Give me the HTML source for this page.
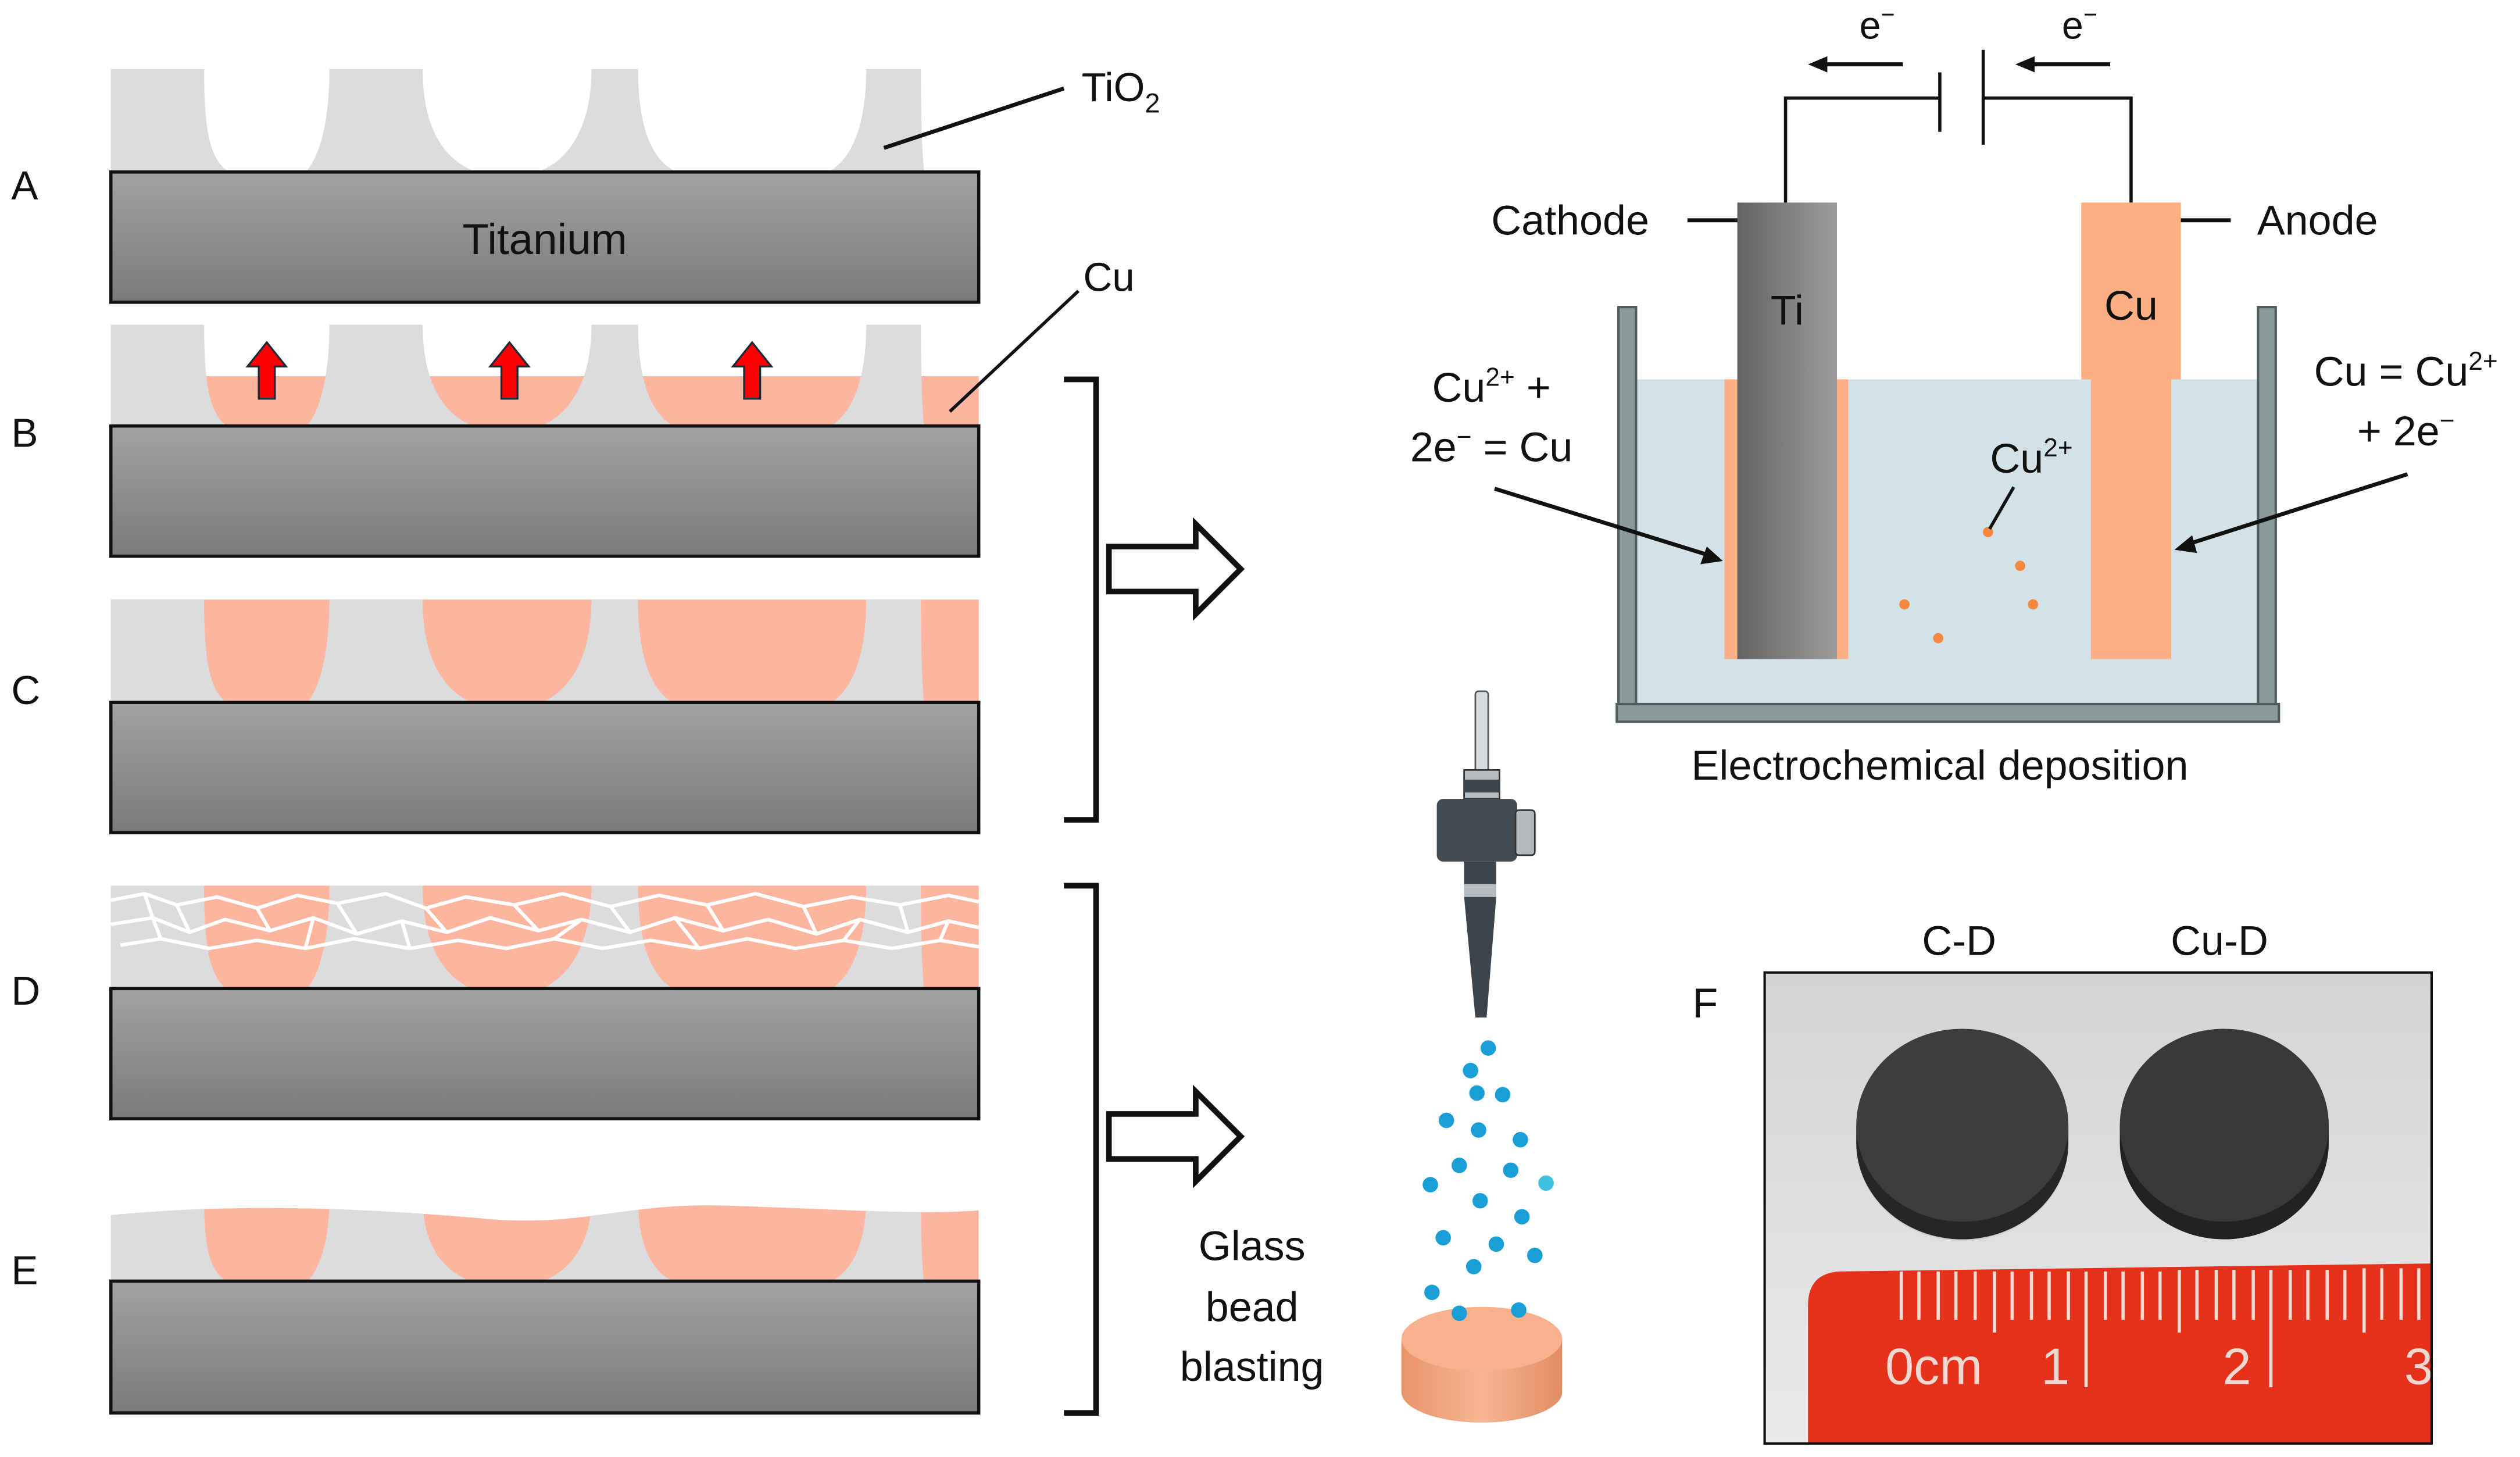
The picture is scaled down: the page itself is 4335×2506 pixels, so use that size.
<!DOCTYPE html>
<html><head><meta charset="utf-8"><style>
html,body{margin:0;padding:0;background:#fff;}
svg{display:block;}
text{font-family:"Liberation Sans",sans-serif;fill:#111;}
</style></head><body>
<svg width="4335" height="2506" viewBox="0 0 1568 906.4" xmlns="http://www.w3.org/2000/svg">
<defs>
<linearGradient id="slab" x1="0" y1="0" x2="0" y2="1"><stop offset="0" stop-color="#a2a2a2"/><stop offset="1" stop-color="#7a7a7a"/></linearGradient>
<linearGradient id="tig" x1="0" y1="0" x2="1" y2="0"><stop offset="0" stop-color="#636363"/><stop offset="1" stop-color="#9c9c9e"/></linearGradient>
<linearGradient id="photo" x1="0" y1="0" x2="0" y2="1"><stop offset="0" stop-color="#d4d4d4"/><stop offset="1" stop-color="#ebe9e9"/></linearGradient>
<linearGradient id="side" x1="0" y1="0" x2="1" y2="0"><stop offset="0" stop-color="#e8946a"/><stop offset="0.5" stop-color="#f6b592"/><stop offset="1" stop-color="#e28c62"/></linearGradient>
<g id="pil" fill="#dcdcdc">
<path d="M69,0 L127,0 C127,40 131,55 141,63 L69,63 Z"/>
<path d="M205,0 L263,0 C263,35 275,55 294,63 L191,63 C198,55 205,35 205,0 Z"/>
<path d="M368,0 L397,0 C397,35 405,55 419,63 L337,63 C355,55 368,35 368,0 Z"/>
<path d="M539,0 L573,0 C573,35 574,55 575,63 L517,63 C530,55 539,35 539,0 Z"/>
</g>
<clipPath id="ewave"><path d="M69,756 C150,748 230,752 300,758 C360,764 390,748 450,750 C520,752 570,756 609,753 L609,800 L69,800 Z"/></clipPath>
</defs>

<!-- A -->
<use href="#pil" transform="translate(0,43)"/>
<rect x="69" y="107" width="540" height="81" fill="url(#slab)" stroke="#111" stroke-width="2"/>
<text x="339" y="158" font-size="27" text-anchor="middle">Titanium</text>
<text x="7" y="124" font-size="25">A</text>
<line x1="550" y1="92" x2="662" y2="55" stroke="#111" stroke-width="2.5"/>
<text x="673" y="63" font-size="25">TiO<tspan font-size="17" dy="7">2</tspan></text>

<!-- B -->
<rect x="127" y="234" width="482" height="31" fill="#fdb5a0"/>
<use href="#pil" transform="translate(0,202)"/>
<rect x="69" y="265" width="540" height="81" fill="url(#slab)" stroke="#111" stroke-width="2"/>
<text x="7" y="278" font-size="25">B</text>
<g fill="#ff0000" stroke="#1a2a3a" stroke-width="1.2">
<path d="M166,213 L178,228 L171,228 L171,248 L161,248 L161,228 L154,228 Z"/>
<path d="M317,213 L329,228 L322,228 L322,248 L312,248 L312,228 L305,228 Z"/>
<path d="M468,213 L480,228 L473,228 L473,248 L463,248 L463,228 L456,228 Z"/>
</g>
<line x1="591" y1="256" x2="671" y2="181" stroke="#111" stroke-width="2"/>
<text x="674" y="181" font-size="25">Cu</text>

<!-- C -->
<rect x="69" y="373" width="540" height="64" fill="#fdb5a0"/>
<use href="#pil" transform="translate(0,373) scale(1,1.02)"/>
<rect x="69" y="437" width="540" height="81" fill="url(#slab)" stroke="#111" stroke-width="2"/>
<text x="7" y="438" font-size="25">C</text>

<!-- D -->
<rect x="69" y="551" width="540" height="64" fill="#fdb5a0"/>
<use href="#pil" transform="translate(0,551) scale(1,1.02)"/>
<g stroke="#fff" stroke-width="2.2" fill="none" stroke-linejoin="round">
<path d="M69,560 L90,556 L110,563 L135,558 L160,565 L185,557 L210,562 L240,556 L265,565 L290,558 L320,563 L350,556 L380,564 L410,557 L440,563 L470,556 L500,564 L530,558 L560,563 L590,557 L609,561"/>
<path d="M69,575 L95,571 L118,580 L140,572 L168,579 L195,571 L222,581 L250,573 L278,580 L305,571 L335,579 L362,572 L392,580 L420,571 L450,579 L478,572 L508,581 L535,572 L565,580 L590,573 L609,577"/>
<path d="M75,588 L100,584 L130,590 L160,585 L190,590 L220,584 L255,590 L285,585 L315,590 L345,584 L375,590 L405,585 L435,590 L465,584 L495,590 L525,585 L555,590 L585,585 L609,589"/>
<path d="M90,556 L95,571 M110,563 L118,580 M160,565 L168,579 M210,562 L222,581 M265,565 L278,580 M320,563 L335,579 M380,564 L392,580 M440,563 L450,579 M500,564 L508,581 M560,563 L565,580 M100,584 L95,571 M190,590 L195,571 M255,590 L250,573 M345,584 L362,572 M435,590 L420,571 M525,585 L535,572 M585,585 L590,573"/>
</g>
<rect x="69" y="615" width="540" height="81" fill="url(#slab)" stroke="#111" stroke-width="2"/>
<text x="7" y="625" font-size="25">D</text>

<!-- E -->
<g clip-path="url(#ewave)">
<rect x="69" y="745" width="540" height="55" fill="#fdb5a0"/>
<use href="#pil" transform="translate(0,745) scale(1,0.83)"/>
</g>
<rect x="69" y="797" width="540" height="82" fill="url(#slab)" stroke="#111" stroke-width="2"/>
<text x="7" y="799" font-size="25">E</text>

<!-- brackets and arrows -->
<path d="M662,236 L682,236 L682,510 L662,510" fill="none" stroke="#111" stroke-width="3.5"/>
<path d="M662,551 L682,551 L682,879 L662,879" fill="none" stroke="#111" stroke-width="3.5"/>
<path d="M690,340 L744,340 L744,326 L772,354 L744,382 L744,368 L690,368 Z" fill="#fff" stroke="#111" stroke-width="3.5"/>
<path d="M690,693 L744,693 L744,679 L772,707 L744,735 L744,721 L690,721 Z" fill="#fff" stroke="#111" stroke-width="3.5"/>

<!-- circuit -->
<text x="1168" y="24" font-size="24" text-anchor="middle">e<tspan font-size="15" dy="-10">−</tspan></text>
<text x="1294" y="24" font-size="24" text-anchor="middle">e<tspan font-size="15" dy="-10">−</tspan></text>
<g stroke="#111" stroke-width="2.5">
<line x1="1184" y1="40" x2="1132" y2="40"/><line x1="1313" y1="40" x2="1261" y2="40"/>
</g>
<path d="M1125,40 L1137,35 L1137,45 Z M1254,40 L1266,35 L1266,45 Z" fill="#111"/>
<g stroke="#111" stroke-width="2" fill="none">
<path d="M1111,126 L1111,61 L1207,61"/><path d="M1234,61 L1326,61 L1326,126"/>
<line x1="1207" y1="45" x2="1207" y2="82"/><line x1="1234" y1="31" x2="1234" y2="90"/>
</g>
<line x1="1050" y1="137" x2="1099" y2="137" stroke="#111" stroke-width="2.5"/>
<line x1="1344" y1="137" x2="1388" y2="137" stroke="#111" stroke-width="2.5"/>
<text x="977" y="146" font-size="26" text-anchor="middle">Cathode</text>
<text x="1442" y="146" font-size="26" text-anchor="middle">Anode</text>

<!-- tank -->
<rect x="1018" y="236" width="387" height="202" fill="#d2e2e8"/>
<rect x="1073" y="236" width="77" height="174" fill="#fdae82"/>
<rect x="1081" y="126" width="62" height="284" fill="url(#tig)"/>
<text x="1112" y="202" font-size="26" text-anchor="middle">Ti</text>
<rect x="1295" y="126" width="62" height="110" fill="#fdae82"/>
<rect x="1301" y="235" width="50" height="175" fill="#fdae82"/>
<text x="1326" y="199" font-size="26" text-anchor="middle">Cu</text>
<g fill="#8a9a9a" stroke="#4e5e5e" stroke-width="1.5">
<rect x="1007" y="191" width="11" height="248"/>
<rect x="1405" y="191" width="11" height="248"/>
<rect x="1006" y="438" width="412" height="11"/>
</g>
<g fill="#f5883c">
<circle cx="1237" cy="331" r="3.2"/><circle cx="1257" cy="352" r="3.2"/><circle cx="1185" cy="376" r="3.2"/><circle cx="1265" cy="376" r="3.2"/><circle cx="1206" cy="397" r="3.2"/>
</g>
<line x1="1253" y1="303" x2="1238" y2="329" stroke="#111" stroke-width="2"/>
<text x="1264" y="294" font-size="26" text-anchor="middle">Cu<tspan font-size="16" dy="-10">2+</tspan></text>
<text x="928" y="250" font-size="26" text-anchor="middle">Cu<tspan font-size="16" dy="-10">2+</tspan><tspan dy="10"> +</tspan></text>
<text x="928" y="287" font-size="26" text-anchor="middle">2e<tspan font-size="16" dy="-10">−</tspan><tspan dy="10"> = Cu</tspan></text>
<text x="1497" y="240" font-size="26" text-anchor="middle">Cu = Cu<tspan font-size="16" dy="-10">2+</tspan></text>
<text x="1497" y="277" font-size="26" text-anchor="middle">+ 2e<tspan font-size="16" dy="-10">−</tspan></text>
<line x1="930" y1="304" x2="1062" y2="345" stroke="#111" stroke-width="2.5"/>
<path d="M1072,349 L1058,351 L1062,340 Z" fill="#111"/>
<line x1="1498" y1="295" x2="1363" y2="338" stroke="#111" stroke-width="2.5"/>
<path d="M1353,342 L1364,333 L1367,344 Z" fill="#111"/>
<text x="1207" y="485" font-size="26" text-anchor="middle">Electrochemical deposition</text>

<!-- nozzle -->
<rect x="918" y="430" width="8" height="52" rx="2" fill="#d8dcdf" stroke="#555" stroke-width="1"/>
<rect x="911" y="479" width="22" height="18" fill="#b8bcc0" stroke="#333" stroke-width="1"/>
<rect x="911" y="485" width="22" height="8" fill="#3e444c"/>
<rect x="894" y="497" width="50" height="39" rx="4" fill="#454b53"/>
<rect x="943" y="504" width="12" height="28" rx="2" fill="#b6babe" stroke="#333" stroke-width="1"/>
<rect x="911" y="536" width="20" height="14" fill="#3e444c"/>
<rect x="911" y="550" width="20" height="8" fill="#b8bcc0"/>
<path d="M911,558 L931,558 L925,633 L918,633 Z" fill="#3e444c"/>
<g fill="#1a9ed8">
<circle cx="926" cy="652" r="4.8"/><circle cx="915" cy="666" r="4.8"/><circle cx="919" cy="680" r="4.8"/><circle cx="935" cy="681" r="4.8"/><circle cx="900" cy="697" r="4.8"/><circle cx="920" cy="703" r="4.8"/><circle cx="946" cy="709" r="4.8"/><circle cx="908" cy="725" r="4.8"/><circle cx="940" cy="728" r="4.8"/><circle cx="890" cy="737" r="4.8"/><circle cx="962" cy="736" r="4.8" fill="#3fc0e0"/><circle cx="921" cy="747" r="4.8"/><circle cx="947" cy="757" r="4.8"/><circle cx="898" cy="770" r="4.8"/><circle cx="931" cy="774" r="4.8"/><circle cx="955" cy="781" r="4.8"/><circle cx="917" cy="788" r="4.8"/><circle cx="891" cy="804" r="4.8"/>
</g>
<path d="M872,833 L872,866 A50,19 0 0 0 972,866 L972,833 Z" fill="url(#side)"/>
<ellipse cx="922" cy="833" rx="50" ry="20" fill="#f9b08c"/>
<circle cx="908" cy="817" r="4.8" fill="#1a9ed8"/><circle cx="945" cy="815" r="4.8" fill="#1a9ed8"/>
<text x="779" y="784" font-size="26" text-anchor="middle">Glass</text>
<text x="779" y="822" font-size="26" text-anchor="middle">bead</text>
<text x="779" y="859" font-size="26" text-anchor="middle">blasting</text>

<!-- photo F -->
<text x="1219" y="594" font-size="26" text-anchor="middle">C-D</text>
<text x="1381" y="594" font-size="26" text-anchor="middle">Cu-D</text>
<text x="1061" y="633" font-size="26" text-anchor="middle">F</text>
<rect x="1098" y="605" width="415" height="293" fill="url(#photo)"/>
<ellipse cx="1221" cy="712" rx="66" ry="60" fill="#c8c6c6" opacity="0.6"/>
<path d="M1155,700 L1155,711 A66,60 0 0 0 1287,711 L1287,700 Z" fill="#262626"/>
<ellipse cx="1221" cy="700" rx="66" ry="60" fill="#3d3d3d"/>
<path d="M1319,700 L1319,711 A65,60 0 0 0 1449,711 L1449,700 Z" fill="#222"/>
<ellipse cx="1384" cy="700" rx="65" ry="60" fill="#383838"/>
<path d="M1513,786 L1145,791 Q1125,792 1125,812 L1125,898 L1513,898 Z" fill="#e5301c"/>
<g stroke="#f3dcd6" stroke-width="2">
<line x1="1183" y1="791" x2="1183" y2="821"/><line x1="1194" y1="791" x2="1194" y2="821"/><line x1="1206" y1="791" x2="1206" y2="821"/><line x1="1217" y1="791" x2="1217" y2="821"/><line x1="1229" y1="791" x2="1229" y2="821"/><line x1="1241" y1="791" x2="1241" y2="829"/><line x1="1252" y1="791" x2="1252" y2="821"/><line x1="1264" y1="791" x2="1264" y2="821"/><line x1="1275" y1="791" x2="1275" y2="821"/><line x1="1287" y1="791" x2="1287" y2="821"/><line x1="1298" y1="791" x2="1298" y2="863"/><line x1="1310" y1="791" x2="1310" y2="821"/><line x1="1321" y1="791" x2="1321" y2="821"/><line x1="1333" y1="791" x2="1333" y2="821"/><line x1="1344" y1="791" x2="1344" y2="821"/><line x1="1356" y1="790" x2="1356" y2="829"/><line x1="1367" y1="790" x2="1367" y2="821"/><line x1="1379" y1="790" x2="1379" y2="821"/><line x1="1390" y1="790" x2="1390" y2="821"/><line x1="1402" y1="790" x2="1402" y2="821"/><line x1="1413" y1="790" x2="1413" y2="863"/><line x1="1425" y1="790" x2="1425" y2="821"/><line x1="1436" y1="790" x2="1436" y2="821"/><line x1="1448" y1="790" x2="1448" y2="821"/><line x1="1459" y1="790" x2="1459" y2="821"/><line x1="1471" y1="789" x2="1471" y2="829"/><line x1="1482" y1="789" x2="1482" y2="821"/><line x1="1494" y1="789" x2="1494" y2="821"/><line x1="1505" y1="789" x2="1505" y2="821"/>
</g>
<text x="1173" y="861" font-size="32" style="fill:#f0d8d2">0cm</text>
<text x="1270" y="861" font-size="32" style="fill:#f0d8d2">1</text>
<text x="1383" y="861" font-size="32" style="fill:#f0d8d2">2</text>
<text x="1496" y="861" font-size="32" style="fill:#f0d8d2">3</text>
<rect x="1098" y="605" width="415" height="293" fill="none" stroke="#111" stroke-width="1.5"/>
</svg>
</body></html>
